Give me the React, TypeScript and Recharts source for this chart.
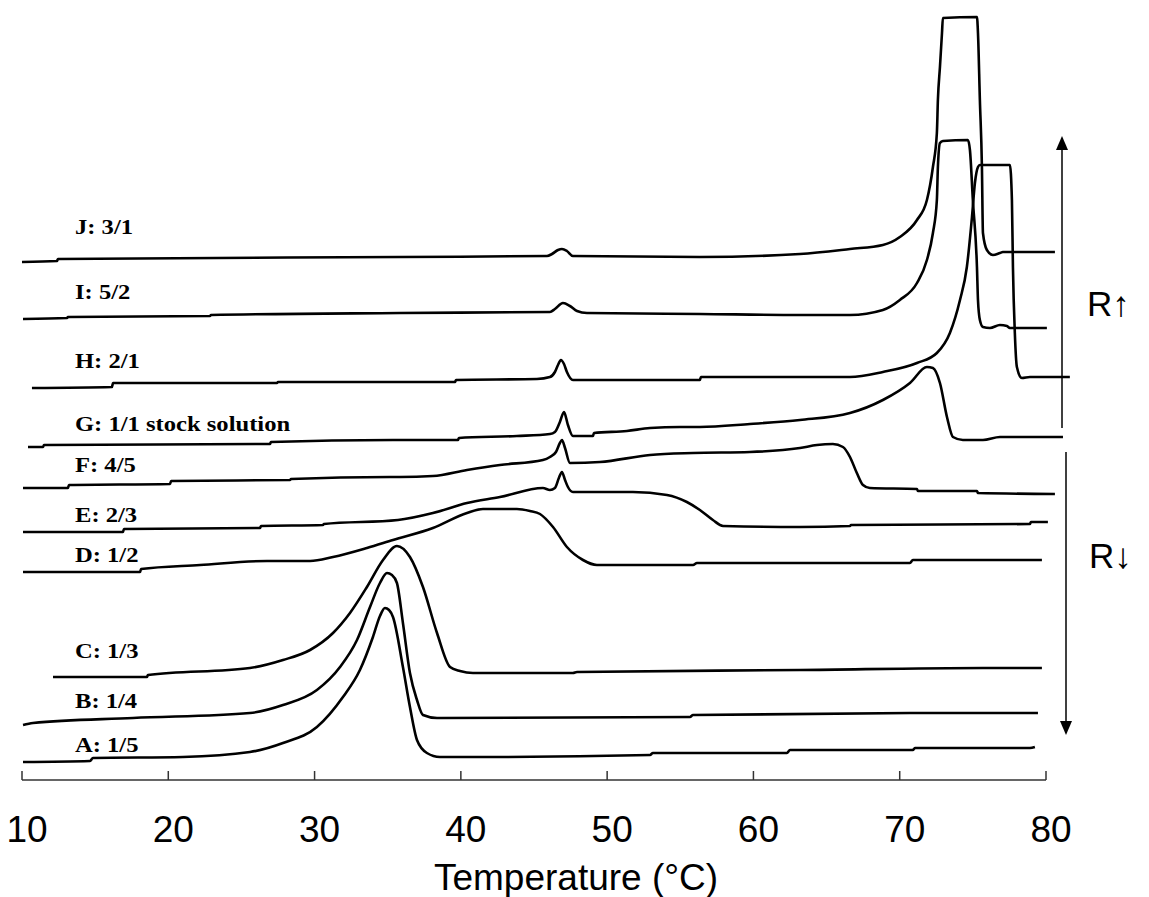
import React from "react";
import { LineChart, Line, XAxis, YAxis, ReferenceLine } from "recharts";

// [temperature °C, heat flow (a.u., curves stacked with an offset)]
const curveA: [number, number][] = [
  [10.07, 1.8], [14.65, 1.9], [14.85, 2.2], [21.0, 2.3], [25.58, 2.8], [27.84, 3.7],
  [30.16, 5.3], [31.94, 8.3], [33.1, 11.0], [33.99, 14.3], [34.47, 16.4], [34.81, 17.2],
  [35.09, 17.0], [35.36, 16.3], [36.04, 11.3], [36.52, 7.3], [37.0, 4.0], [37.68, 2.7],
  [38.57, 2.3], [41.78, 2.3], [52.93, 2.5], [53.13, 2.7], [62.29, 2.7], [62.5, 3.0],
  [70.9, 3.0], [71.04, 3.2], [78.9, 3.2], [79.24, 3.3],
];
const curveB: [number, number][] = [
  [10.07, 5.5], [10.75, 5.7], [17.59, 6.2], [25.58, 6.7], [27.84, 7.5], [30.16, 9.0],
  [31.74, 11.3], [32.9, 14.0], [33.79, 17.3], [34.47, 19.7], [34.95, 20.7], [35.29, 20.5],
  [35.63, 19.7], [36.04, 15.7], [36.52, 10.7], [37.0, 8.0], [37.41, 6.5], [38.37, 6.2],
  [55.66, 6.3], [55.87, 6.5], [70.7, 6.7], [79.45, 6.7],
];
const curveC: [number, number][] = [
  [12.12, 10.3], [18.54, 10.3], [18.61, 10.5], [25.58, 11.2], [27.84, 12.0], [29.69, 13.0],
  [31.26, 14.7], [32.42, 16.7], [33.58, 19.3], [34.68, 22.0], [35.63, 23.4], [36.52, 22.3],
  [37.41, 19.3], [38.37, 14.7], [39.26, 11.3], [39.94, 10.9], [40.83, 10.7], [47.66, 10.7],
  [47.94, 10.8], [63.18, 11.0], [75.69, 11.2], [79.72, 11.2],
];
const curveD: [number, number][] = [
  [10.07, 20.8], [18.07, 20.8], [18.14, 21.1], [22.17, 21.5], [26.75, 21.9], [29.69, 21.9],
  [31.26, 22.3], [33.58, 23.2], [35.36, 24.0], [38.09, 25.2], [40.42, 26.7], [41.51, 27.1],
  [43.83, 27.1], [44.72, 26.9], [45.41, 26.6], [46.3, 25.3], [47.25, 23.3], [48.35, 22.0],
  [49.3, 21.5], [55.87, 21.5], [56.14, 21.7], [70.7, 21.7], [70.9, 22.0], [79.72, 22.0],
];
const curveE: [number, number][] = [
  [10.07, 24.8], [16.9, 24.8], [16.97, 25.1], [26.27, 25.2], [26.34, 25.4], [30.57, 25.5],
  [30.64, 25.6], [35.7, 26.0], [38.09, 26.7], [40.42, 27.7], [42.67, 28.3], [45.61, 29.2],
  [46.09, 29.0], [46.43, 29.2], [46.7, 30.2], [46.91, 30.8], [47.12, 30.0], [47.32, 29.3],
  [47.66, 28.8], [51.76, 28.8], [54.09, 28.5], [55.45, 27.8], [56.34, 27.0], [57.23, 26.0],
  [57.92, 25.4], [63.18, 25.3], [66.6, 25.4], [66.67, 25.5], [78.9, 25.6], [78.97, 25.8],
  [80.13, 25.8],
];
const curveF: [number, number][] = [
  [10.07, 29.2], [13.14, 29.2], [13.21, 29.5], [20.12, 29.6], [20.19, 29.9], [28.32, 30.0],
  [28.39, 30.1], [35.15, 30.3], [35.84, 30.3], [38.09, 30.4], [40.42, 31.0], [42.67, 31.5],
  [45.61, 32.0], [46.09, 32.3], [46.5, 32.8], [46.77, 33.7], [46.91, 34.0], [47.12, 33.2],
  [47.46, 31.7], [49.51, 31.8], [52.93, 32.5], [55.87, 32.7], [59.76, 32.8], [63.18, 33.2],
  [64.34, 33.5], [65.43, 33.6], [66.12, 33.3], [66.6, 32.3], [67.07, 30.7], [67.49, 29.5],
  [67.96, 29.2], [71.18, 29.1], [71.24, 28.9], [75.28, 28.9], [75.35, 28.7], [80.61, 28.6],
];
const curveG: [number, number][] = [
  [10.41, 33.3], [11.44, 33.3], [11.5, 33.5], [26.95, 33.6], [27.02, 33.8], [35.36, 34.0],
  [39.8, 34.0], [39.87, 34.2], [43.83, 34.4], [46.09, 34.6], [46.43, 34.8], [46.77, 35.8],
  [47.05, 36.8], [47.32, 35.5], [47.66, 34.4], [49.03, 34.4], [49.1, 34.7], [51.35, 34.9],
  [52.93, 35.2], [54.98, 35.3], [56.34, 35.3], [59.76, 35.6], [63.18, 36.0], [66.6, 36.7],
  [68.85, 38.0], [70.7, 39.7], [71.86, 41.3], [72.27, 41.2], [72.75, 39.7], [73.23, 36.3],
  [73.64, 34.3], [74.32, 34.0], [75.69, 34.0], [76.85, 34.3], [81.16, 34.3],
];
const curveH: [number, number][] = [
  [10.68, 39.2], [16.15, 39.3], [16.22, 39.7], [27.43, 39.7], [27.5, 39.8], [39.6, 39.8],
  [39.67, 40.0], [45.2, 40.1], [46.09, 40.3], [46.43, 40.8], [46.64, 41.5], [46.84, 42.0],
  [47.05, 41.6], [47.25, 40.8], [47.66, 40.0], [56.34, 40.0], [56.41, 40.3], [66.6, 40.3],
  [68.85, 40.8], [71.18, 41.7], [72.54, 42.7], [73.43, 44.7], [74.12, 48.0], [74.59, 51.3],
  [74.94, 56.3], [75.14, 59.7], [75.35, 61.3], [75.48, 61.5], [77.53, 61.5], [77.67, 58.0],
  [77.74, 51.3], [77.87, 44.7], [78.01, 41.3], [78.35, 40.2], [78.9, 40.3], [81.63, 40.3],
];
const curveI: [number, number][] = [
  [10.07, 46.1], [13.08, 46.2], [13.14, 46.3], [22.85, 46.4], [22.92, 46.5], [35.84, 46.7],
  [46.09, 46.8], [46.43, 47.1], [46.98, 47.7], [47.46, 47.4], [47.94, 46.9], [48.62, 46.7],
  [56.34, 46.6], [63.18, 46.5], [66.6, 46.5], [68.85, 47.0], [70.01, 48.0], [71.18, 49.7],
  [71.86, 52.0], [72.27, 54.7], [72.54, 58.0], [72.61, 61.3], [72.75, 63.7], [72.95, 63.9],
  [74.66, 64.0], [74.8, 63.0], [75.0, 58.0], [75.28, 51.3], [75.35, 48.0], [75.48, 46.0],
  [75.69, 45.3], [76.17, 45.2], [76.85, 45.5], [77.33, 45.4], [77.53, 45.2], [80.06, 45.2],
];
const curveJ: [number, number][] = [
  [10.0, 51.8], [12.39, 51.9], [12.46, 52.1], [35.84, 52.3], [45.89, 52.4], [46.23, 52.6],
  [46.64, 53.0], [46.91, 53.1], [47.25, 52.9], [47.66, 52.4], [56.34, 52.3], [63.18, 52.6],
  [66.6, 53.1], [68.85, 53.5], [70.01, 54.3], [71.18, 56.0], [71.86, 58.0], [72.27, 61.3],
  [72.54, 64.7], [72.61, 68.0], [72.75, 71.3], [72.89, 74.7], [72.95, 76.2], [75.28, 76.3],
  [75.35, 74.7], [75.48, 68.0], [75.62, 61.3], [75.69, 54.7], [75.96, 53.0], [76.37, 52.5],
  [76.85, 52.7], [77.05, 52.8], [80.61, 52.8],
];

const curves = [curveA, curveB, curveC, curveD, curveE, curveF, curveG, curveH, curveI, curveJ];

const curveLabels = [
  "A: 1/5", "B: 1/4", "C: 1/3", "D: 1/2", "E: 2/3",
  "F: 4/5", "G: 1/1 stock solution", "H: 2/1", "I: 5/2", "J: 3/1",
];
// baselines of the labels, in page pixels (bottom to top)
const labelBaselines = [752, 708, 658, 562, 522, 472, 431, 368, 299, 234];

const xTicks = [10, 20, 30, 40, 50, 60, 70, 80];

const W = 1149;
const H = 897;
const pxPerDeg = 1024 / 70;

const toPoints = (c: [number, number][]) => c.map(([t, v]) => ({ t, v }));

const AxisTick = (props: any) => {
  const { x, y, payload } = props;
  return (
    <g>
      <line x1={x} y1={y} x2={x} y2={y - 9} stroke="#333" strokeWidth={1.5} />
      <text
        x={x + 5}
        y={y + 62}
        textAnchor="middle"
        fontFamily="'Liberation Sans', Arial, sans-serif"
        fontSize={37}
        fill="#000"
      >
        {payload.value}
      </text>
    </g>
  );
};

export default function App() {
  const serif = "'Liberation Serif', 'Times New Roman', serif";
  const sans = "'Liberation Sans', Arial, sans-serif";
  return (
    <div style={{ position: "absolute", left: 0, top: 0, width: W, height: H, background: "#fff" }}>
      <LineChart
        width={W}
        height={H}
        margin={{ top: 0, left: 22, right: W - 22 - 72 * pxPerDeg, bottom: 0 }}
      >
        <XAxis
          type="number"
          dataKey="t"
          domain={[10, 82]}
          ticks={xTicks}
          height={117}
          axisLine={false}
          tickLine={false}
          tickSize={0}
          tickMargin={0}
          tick={<AxisTick />}
          allowDuplicatedCategory={false}
        />
        <YAxis type="number" domain={[0, 78]} hide />
        <ReferenceLine
          segment={[{ x: 10, y: 0 }, { x: 80, y: 0 }]}
          stroke="#333"
          strokeWidth={1.5}
        />
        {curves.map((c, i) => (
          <Line
            key={curveLabels[i]}
            data={toPoints(c)}
            dataKey="v"
            type="monotoneX"
            stroke="#000"
            strokeWidth={2.6}
            dot={false}
            activeDot={false}
            isAnimationActive={false}
          />
        ))}
      </LineChart>
      <svg
        width={W}
        height={H}
        style={{ position: "absolute", left: 0, top: 0, pointerEvents: "none" }}
      >
        {curveLabels.map((lab, i) => (
          <text
            key={lab}
            transform={`translate(75, ${labelBaselines[i]}) scale(1.2, 1)`}
            fontFamily={serif}
            fontWeight="bold"
            fontSize={20.5}
            fill="#000"
          >
            {lab}
          </text>
        ))}
        <text x={576} y={890} textAnchor="middle" fontFamily={sans} fontSize={37} fill="#000">
          Temperature (°C)
        </text>

        {/* R up / R down arrows */}
        <line x1={1062} y1={428} x2={1062} y2={148} stroke="#000" strokeWidth={1.5} />
        <polygon points="1062,136 1056,150 1068,150" fill="#000" />
        <line x1={1066} y1={452} x2={1066} y2={722} stroke="#000" strokeWidth={1.5} />
        <polygon points="1066,735 1060,721 1072,721" fill="#000" />
        <text x={1087} y={316} fontFamily={sans} fontSize={35} fill="#000">R↑</text>
        <text x={1089} y={568} fontFamily={sans} fontSize={35} fill="#000">R↓</text>
      </svg>
    </div>
  );
}
